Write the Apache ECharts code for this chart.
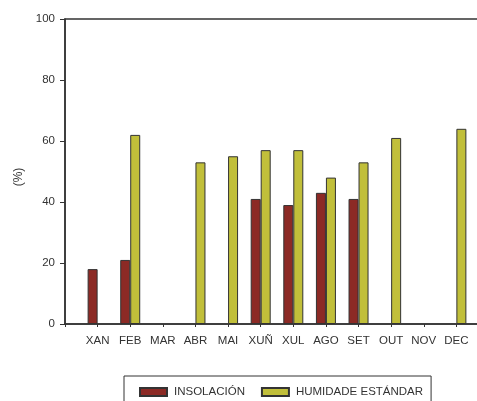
<!DOCTYPE html>
<html>
<head>
<meta charset="utf-8">
<script src="https://cdn.jsdelivr.net/npm/echarts@6/dist/echarts.min.js"></script>
<style>html,body{margin:0;padding:0;background:#fff;overflow:hidden;width:477px;height:401px;}#c{width:500px;height:401px;}</style>
</head>
<body>
<div id="c"></div>
<script>
var months = ['XAN','FEB','MAR','ABR','MAI','XUÑ','XUL','AGO','SET','OUT','NOV','DEC'];
var insolacion = [18, 21, null, null, null, 41, 39, 43, 41, null, null, null];
var humidade = [null, 62, null, 53, 55, 57, 57, 48, 53, 61, null, 64];
var yTicks = [0, 20, 40, 60, 80, 100];

var cats = [''].concat(months, ['']);
function pad(a){ return [null].concat(a, [null]); }
var FONT = 'Liberation Sans, Arial, sans-serif';
var chart = echarts.init(document.getElementById('c'), null, {renderer:'canvas'});
chart.setOption({
  animation: false,
  backgroundColor: '#fff',
  textStyle: {fontFamily: FONT},
  grid: {left: 65, top: 19, width: 424, bottom: 77, show: true, borderColor: '#333', borderWidth: 1.5, backgroundColor: 'transparent'},
  xAxis: {
    type: 'category', data: cats, boundaryGap: false,
    axisLine: {lineStyle: {color: '#333', width: 1.5}},
    axisTick: {show: true, interval: 0, length: 3, lineStyle: {color: '#333'}},
    axisLabel: {interval: 0, margin: 11, color: '#333', fontSize: 11.5, fontFamily: FONT},
    splitLine: {show: false}
  },
  yAxis: {
    type: 'value', min: yTicks[0], max: yTicks[yTicks.length-1], interval: 20,
    axisLine: {show: true, lineStyle: {color: '#333', width: 1.5}},
    axisTick: {show: true, length: 5, lineStyle: {color: '#333'}},
    axisLabel: {margin: 10, color: '#333', fontSize: 11.5, fontFamily: FONT},
    splitLine: {show: false}
  },
  legend: {
    left: 124, top: 376,
    orient: 'horizontal',
    icon: 'rect',
    borderColor: '#333', borderWidth: 1,
    padding: [10, 8, 14, 15],
    itemWidth: 27, itemHeight: 8, itemGap: 16,
    textStyle: {color: '#333', fontSize: 11.5, fontFamily: FONT, padding: [0,0,0,2]},
    data: ['INSOLACIÓN', 'HUMIDADE ESTÁNDAR']
  },
  graphic: [{
    type: 'text', x: 19, y: 177, rotation: Math.PI/2,
    style: {text: '(%)', fill: '#333', fontSize: 12, fontFamily: FONT, align: 'center', verticalAlign: 'middle'}
  }],
  series: [
    {name: 'INSOLACIÓN', type: 'bar', data: pad(insolacion), barWidth: 10, barGap: '0%',
     itemStyle: {color: '#8C2A25', borderColor: '#333', borderWidth: 1}},
    {name: 'HUMIDADE ESTÁNDAR', type: 'bar', data: pad(humidade), barWidth: 10, barGap: '0%',
     itemStyle: {color: '#C1BF3A', borderColor: '#333', borderWidth: 1}}
  ]
});
</script>
</body>
</html>
